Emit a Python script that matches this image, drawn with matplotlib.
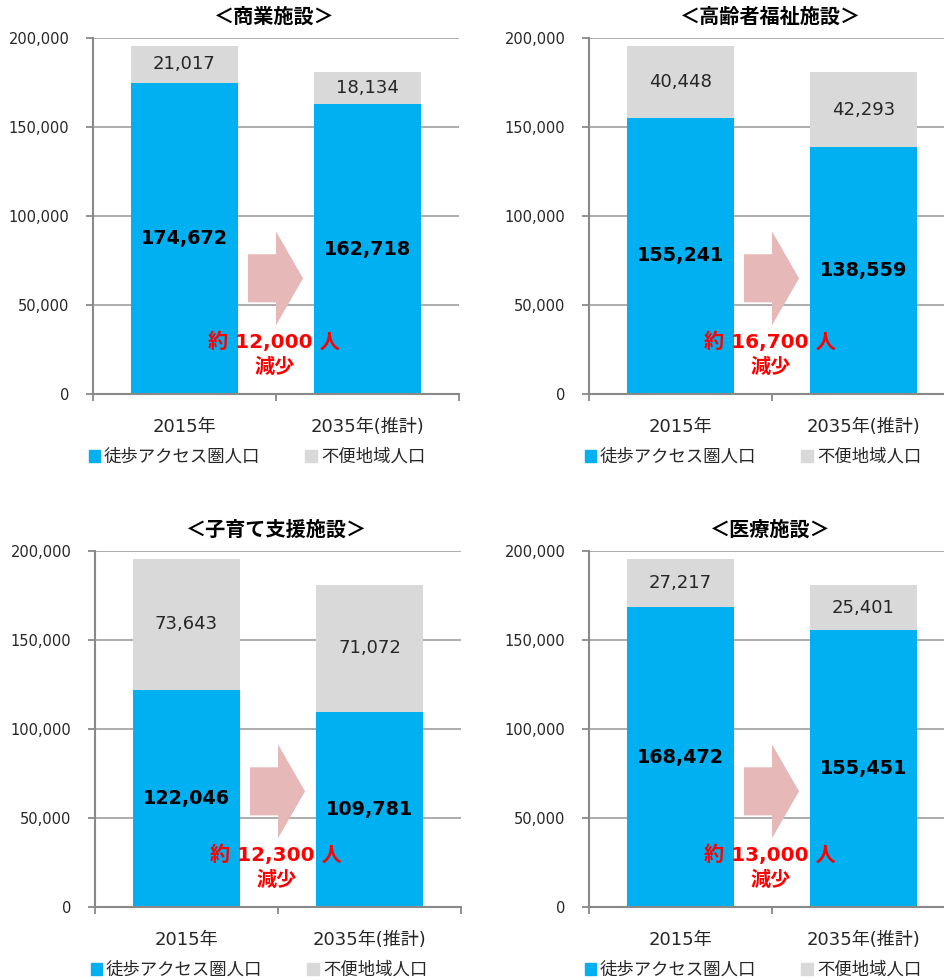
import matplotlib.pyplot as plt
import numpy as np
from matplotlib.patches import FancyArrow, Patch
from matplotlib.ticker import FuncFormatter

# data
facilities = ['商業施設', '高齢者福祉施設', '子育て支援施設', '医療施設']
years = ['2015年', '2035年(推計)']
walk_pop = [[174672, 162718], [155241, 138559], [122046, 109781], [168472, 155451]]
remote_pop = [[21017, 18134], [40448, 42293], [73643, 71072], [27217, 25401]]
decrease = ['12,000', '16,700', '12,300', '13,000']
series_names = ['徒歩アクセス圏人口', '不便地域人口']

BLUE = '#00B0F0'
GRAY = '#D9D9D9'
GRID = '#A6A6A6'
FONT = ['DejaVu Sans', 'Noto Sans CJK JP']
plt.rcParams['font.family'] = FONT

W, H = 944, 980
fig = plt.figure(figsize=(W / 100, H / 100), dpi=100)

# axes boxes in pixels: left, top (200,000 line), width, height
boxes = [(93, 38), (589, 38), (95, 551), (589, 551)]
AX_W, AX_H = 366, 356

x = np.arange(len(years))
for i, name in enumerate(facilities):
    left, top = boxes[i]
    ax = fig.add_axes([left / W, 1 - (top + AX_H) / H, AX_W / W, AX_H / H])
    walk = np.array(walk_pop[i])
    remote = np.array(remote_pop[i])

    ax.bar(x, walk, width=0.59, color=BLUE, zorder=2, label=series_names[0])
    ax.bar(x, remote, width=0.59, bottom=walk, color=GRAY, zorder=2, label=series_names[1])

    for xi, w, r in zip(x, walk, remote):
        ax.text(xi, w / 2, f'{w:,}', ha='center', va='center', fontsize=13.8,
                fontweight='bold', color='black', zorder=3)
        ax.text(xi, w + r / 2, f'{r:,}', ha='center', va='center', fontsize=13,
                color='#262626', zorder=3)

    ax.set_xlim(-0.5, 1.5)
    ax.set_ylim(0, 200000)
    ax.set_yticks(np.arange(0, 200001, 50000))
    ax.yaxis.set_major_formatter(FuncFormatter(lambda v, p: f'{int(v):,}'))
    ax.yaxis.grid(True, color=GRID, linewidth=1.3, zorder=0)
    ax.set_axisbelow(True)

    ax.set_xticks(x)
    ax.set_xticklabels(years)
    ax.set_xticks([-0.5, 0.5, 1.5], minor=True)
    ax.tick_params(axis='x', which='major', length=0, pad=17, labelsize=13, labelcolor='#262626')
    ax.tick_params(axis='x', which='minor', length=5, width=1.3, color='#898989')
    ax.tick_params(axis='y', length=5, width=1.3, color='#898989', pad=12,
                   labelsize=10.5, labelcolor='#262626')

    for side in ['top', 'right']:
        ax.spines[side].set_visible(False)
    for side in ['left', 'bottom']:
        ax.spines[side].set_color('#898989')
        ax.spines[side].set_linewidth(1.5)
        ax.spines[side].set_zorder(4)

    # title
    ax.text(0.495, 1 + 21 / AX_H, f'＜{name}＞', transform=ax.transAxes, ha='center',
            va='center', fontsize=14.5, fontweight='bold')

    # decrease arrow and text
    arrow = FancyArrow(0.4235, 0.325, 0.1505, 0, width=0.135, head_width=0.264,
                       head_length=0.074, length_includes_head=True,
                       transform=ax.transAxes, color='#E6B9B8', lw=0, zorder=3)
    ax.add_patch(arrow)
    ax.text(0.495, 0.146, f'約 {decrease[i]} 人', transform=ax.transAxes, ha='center',
            va='center', fontsize=14.5, fontweight='bold', color='#FF0000', zorder=4)
    ax.text(0.495, 0.074, '減少', transform=ax.transAxes, ha='center',
            va='center', fontsize=14.5, fontweight='bold', color='#FF0000', zorder=4)

    handles = [Patch(color=BLUE), Patch(color=GRAY)]
    ax.legend(handles, series_names, loc='center left', bbox_to_anchor=(-0.036, -0.177),
              ncol=2, frameon=False, fontsize=12.5, handlelength=0.64, handleheight=0.64,
              handletextpad=0.25, columnspacing=2.6, borderpad=0, labelcolor='#262626')

fig.savefig('out.png', dpi=100)
